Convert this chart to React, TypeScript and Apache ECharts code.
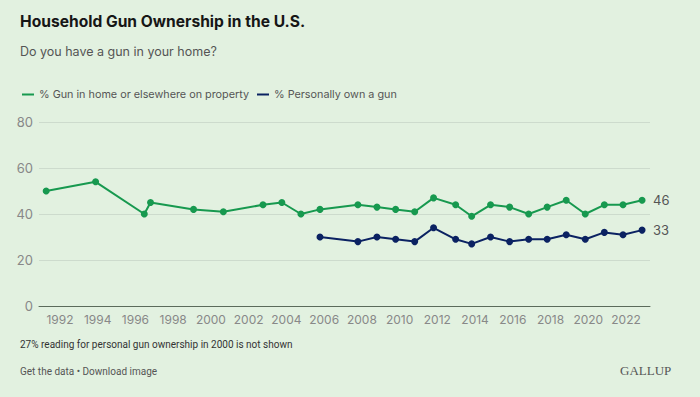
import React, { useEffect, useRef } from "react";
import * as echarts from "echarts";

const greenYears = [1991.27, 1993.89, 1996.47, 1996.8, 1999.08, 2000.66, 2002.76, 2003.76, 2004.77, 2005.78, 2007.79, 2008.8, 2009.79, 2010.8, 2011.8, 2012.97, 2013.82, 2014.82, 2015.83, 2016.84, 2017.82, 2018.83, 2019.84, 2020.85, 2021.84, 2022.85];
const greenValues = [50, 54, 40, 45, 42, 41, 44, 45, 40, 42, 44, 43, 42, 41, 47, 44, 39, 44, 43, 40, 43, 46, 40, 44, 44, 46];
const navyYears = [2005.78, 2007.79, 2008.8, 2009.79, 2010.8, 2011.8, 2012.97, 2013.82, 2014.82, 2015.83, 2016.84, 2017.82, 2018.83, 2019.84, 2020.85, 2021.84, 2022.85];
const navyValues = [30, 28, 30, 29, 28, 34, 29, 27, 30, 28, 29, 29, 31, 29, 32, 31, 33];
const xTickYears = [1992, 1994, 1996, 1998, 2000, 2002, 2004, 2006, 2008, 2010, 2012, 2014, 2016, 2018, 2020, 2022];
const seriesNames = ["% Gun in home or elsewhere on property", "% Personally own a gun"];

const GREEN = "#17994f";
const NAVY = "#0b2262";
const FONT = "Inter, 'Noto Sans', sans-serif";

export default function App() {
  const ref = useRef<HTMLDivElement>(null);
  useEffect(() => {
    if (!ref.current) return;
    const chart = echarts.init(ref.current, null, { renderer: "svg" });
    const pair = (xs: number[], ys: number[]) => xs.map((x, i) => [x, ys[i]]);
    chart.setOption({
      animation: false,
      backgroundColor: "#e2f1e0",
      textStyle: { fontFamily: FONT },
      graphic: [
        { type: "text", left: 20, top: 13, style: { text: "Household Gun Ownership in the U.S.", font: `bold 15.6px ${FONT}`, fill: "#161616" } },
        { type: "text", left: 20, top: 45, style: { text: "Do you have a gun in your home?", font: `12.5px ${FONT}`, fill: "#555" } },
        { type: "text", left: 20, top: 339, style: { text: "27% reading for personal gun ownership in 2000 is not shown", font: `10px Roboto, sans-serif`, fill: "#333" } },
        { type: "text", left: 20, top: 366, style: { text: "Get the data \u2022 Download image", font: `10px Roboto, sans-serif`, fill: "#555" } },
        { type: "text", left: 620, top: 364, style: { text: "GALLUP", font: `13px 'Liberation Serif', 'DejaVu Serif', serif`, fill: "#555" } },
      ],
      legend: {
        left: 17,
        top: 84,
        icon: "rect",
        itemWidth: 12,
        itemHeight: 2,
        itemGap: 8,
        textStyle: { fontSize: 10.8, color: "#555", fontFamily: FONT },
        data: seriesNames,
      },
      grid: { left: 39, right: 50, top: 122, bottom: 91, containLabel: false },
      xAxis: {
        type: "value",
        min: 1990.89,
        max: 2023.27,
        splitLine: { show: false },
        axisLine: { show: true, lineStyle: { color: "#5b6b5b", width: 1 } },
        axisTick: { show: false },
        axisLabel: { customValues: xTickYears, color: "#888", fontSize: 12, margin: 7, formatter: (v: number) => String(v) },
      },
      yAxis: {
        type: "value",
        min: 0,
        max: 80,
        interval: 20,
        axisLine: { show: false },
        axisTick: { show: false },
        splitLine: { lineStyle: { color: "#cddbcd", width: 1 } },
        axisLabel: { color: "#888", fontSize: 13, margin: 6 },
      },
      series: [
        {
          name: seriesNames[0],
          type: "line",
          data: pair(greenYears, greenValues),
          color: GREEN,
          lineStyle: { width: 2 },
          symbol: "circle",
          symbolSize: 7,
          endLabel: { show: true, formatter: (p: any) => String(p.value[1]), color: "#555", fontSize: 13, distance: 11 },
        },
        {
          name: seriesNames[1],
          type: "line",
          data: pair(navyYears, navyValues),
          color: NAVY,
          lineStyle: { width: 2 },
          symbol: "circle",
          symbolSize: 7,
          endLabel: { show: true, formatter: (p: any) => String(p.value[1]), color: "#555", fontSize: 13, distance: 11 },
        },
      ],
    });
    return () => chart.dispose();
  }, []);
  return <div ref={ref} style={{ width: 700, height: 397, position: "fixed", left: 0, top: 0 }} />;
}
